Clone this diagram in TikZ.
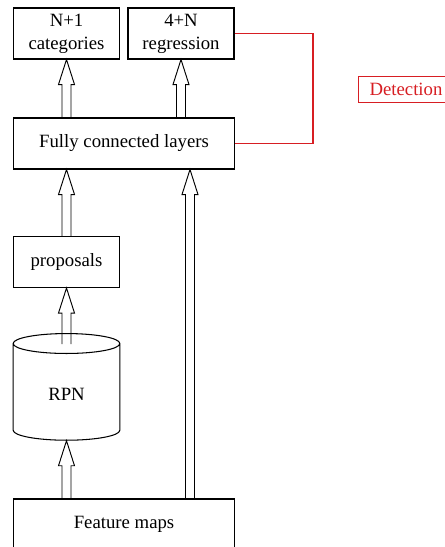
\documentclass[tikz,border=0pt]{standalone}
\usepackage{fontspec}
\setmainfont{Liberation Serif}
\usetikzlibrary{shapes.geometric,calc}

\definecolor{detred}{RGB}{215,30,35}
\tikzset{
    box/.style={draw, line width=0.9pt, minimum width=3.18cm, minimum height=1.53cm,
        align=center, font=\fontsize{16}{19.5}\selectfont},
    wide/.style={box, minimum width=6.63cm},
    hollow/.style={line width=0.8pt, line join=miter},
    link/.style={draw=detred, line width=1.2pt},
}
% open arrow, tail #1, tip #2 (vertical only)
\newcommand{\harrow}[2]{%
    \draw[hollow] ($(#1)+(-4.5,0)$) -- ($(#2)+(-4.5,25)$) -- ($(#2)+(-8,25)$)
        -- (#2) -- ($(#2)+(8,25)$) -- ($(#2)+(4.5,25)$) -- ($(#1)+(4.5,0)$);}

\begin{document}
\begin{tikzpicture}[x=0.03cm, y=-0.03cm]
    \useasboundingbox (0,0) rectangle (445,547);
    \node[box] (cat) at (66.5, 33.5) {N+1\\categories};
    \node[box] (reg) at (181, 33.5) {4+N\\regression};
    \node[wide] (fc) at (124, 143.5) {Fully connected layers};
    \node[box] (prop) at (66.5, 262) {proposals};
    \node[box, cylinder, shape border rotate=90, aspect=0.45,
        minimum width=3.2cm, minimum height=3.2cm] (rpn) at (66.5, 394) {RPN};
    \node[wide] (feat) at (124, 524.5) {Feature maps};
    \node[draw=detred, text=detred, line width=0.8pt, minimum width=2.88cm,
        minimum height=0.78cm, font=\fontsize{16}{19.5}\selectfont]
        (det) at (406, 89) {Detection};
    \coordinate (bend) at (313, 0);
    \path[link] (reg.east) -- (reg.east -| bend) -- (fc.east -| bend) -- (fc.east);
    \harrow{fc.north -| cat.south}{cat.south}
    \harrow{fc.north -| reg.south}{reg.south}
    \harrow{prop.north}{fc.south -| prop.north}
    \harrow{$(rpn.north)+(0,11)$}{prop.south}
    \harrow{feat.north -| rpn.south}{rpn.south}
    \coordinate (side) at (190, 0);
    \harrow{feat.north -| side}{fc.south -| side}
\end{tikzpicture}
\end{document}
